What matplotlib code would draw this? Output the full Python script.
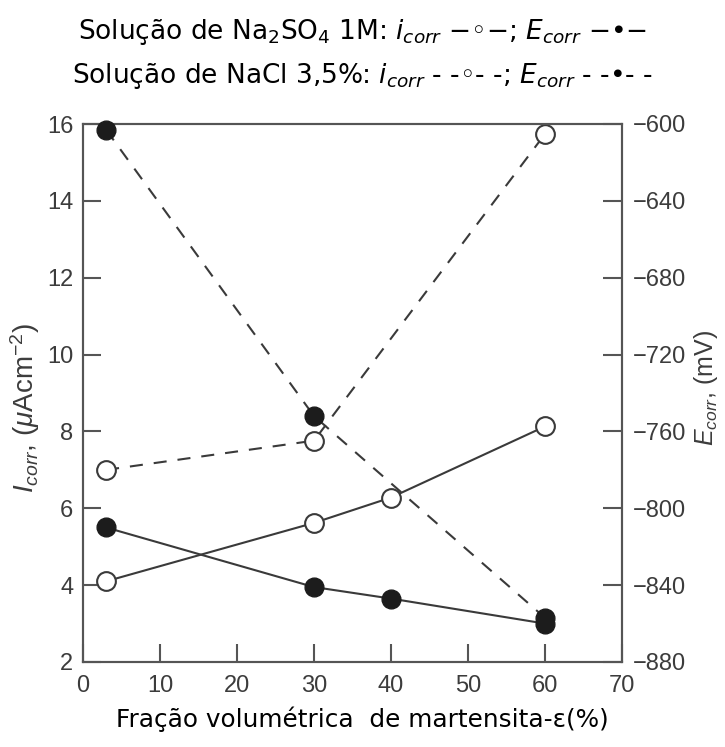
import matplotlib
matplotlib.use("Agg")
import matplotlib.pyplot as plt

# Volume fraction of epsilon-martensite (%)
frac_na2so4 = [3, 30, 40, 60]
frac_nacl = [3, 30, 60]

# Na2SO4 1M solution
icorr_na2so4 = [4.1, 5.62, 6.28, 8.13]          # uA/cm2
ecorr_na2so4 = [-810, -841, -847, -860]          # mV

# NaCl 3.5% solution
icorr_nacl = [7.0, 7.76, 15.74]                  # uA/cm2
ecorr_nacl = [-603, -752, -857]                  # mV

x_ticks = [0, 10, 20, 30, 40, 50, 60, 70]
i_ticks = [2, 4, 6, 8, 10, 12, 14, 16]
e_ticks = [-880, -840, -800, -760, -720, -680, -640, -600]

plt.rcParams['font.family'] = ['Liberation Sans', 'DejaVu Sans']
plt.rcParams['mathtext.fontset'] = 'custom'
plt.rcParams['mathtext.rm'] = 'Liberation Sans'
plt.rcParams['mathtext.it'] = 'Liberation Sans:italic'
plt.rcParams['lines.scale_dashes'] = False

axis_grey = '#555555'
text_grey = '#3c3c3c'
line_col = '#3a3a3a'
dash = (0, (9.4, 7.9))

fig = plt.figure(figsize=(7.25, 7.47), dpi=100)
ax = fig.add_axes([83/725, 1 - 662/747, (622-83)/725, (662-124)/747])
ax2 = ax.twinx()

ms = 13.5
open_kw = dict(marker='o', ms=ms, mfc='white', mec=line_col, mew=1.5, color=line_col, lw=1.5)
fill_kw = dict(marker='o', ms=ms, mfc='#1c1c1c', mec='#1c1c1c', mew=1.0, color=line_col, lw=1.5)

ax.plot(frac_na2so4, icorr_na2so4, ls='-', zorder=3, clip_on=False, **open_kw)
ax.plot(frac_nacl, icorr_nacl, ls=dash, zorder=3, clip_on=False, **open_kw)
ax2.plot(frac_na2so4, ecorr_na2so4, ls='-', zorder=3, clip_on=False, **fill_kw)
ax2.plot(frac_nacl, ecorr_nacl, ls=dash, zorder=3, clip_on=False, **fill_kw)

ax.set_xlim(0, 70)
ax.set_ylim(2, 16)
ax2.set_ylim(-880, -600)
ax.set_xticks(x_ticks)
ax.set_yticks(i_ticks)
ax2.set_yticks(e_ticks)

for a in (ax, ax2):
    for s in a.spines.values():
        s.set_color(axis_grey)
        s.set_linewidth(1.5)

ax.tick_params(axis='both', direction='in', length=13, width=1.5, color=axis_grey,
               labelsize=17, labelcolor=text_grey, pad=7)
ax.tick_params(axis='x', pad=9)
ax2.tick_params(axis='y', direction='in', length=14, width=1.5, color=axis_grey,
                labelsize=17, labelcolor=text_grey, pad=8)

ax.set_ylabel(r'$I_{corr}$, ($\mu$Acm$^{-2}$)', fontsize=20, color=text_grey)
ax2.set_ylabel(r'$E_{corr}$, (mV)', fontsize=18, color=text_grey)
ax.yaxis.set_label_coords(-0.076, 0.472)
ax2.yaxis.set_label_coords(1.13, 0.51)

title_kw = dict(ha='center', va='center', fontsize=19, color='black',
                family='DejaVu Sans', math_fontfamily='dejavusans')
fig.text(0.5, 1 - 32/747,
         'Solução de Na$_2$SO$_4$ 1M: $i_{corr}$ −◦−; $E_{corr}$ −•−', **title_kw)
fig.text(0.5, 1 - 76/747,
         'Solução de NaCl 3,5%: $i_{corr}$ - -◦- -; $E_{corr}$ - -•- -', **title_kw)

fig.text(0.5, 1 - 719/747, 'Fração volumétrica  de martensita-ε(%)',
         ha='center', va='center', fontsize=17.8, color='black', family='DejaVu Sans')

fig.savefig('out.png', dpi=100)
